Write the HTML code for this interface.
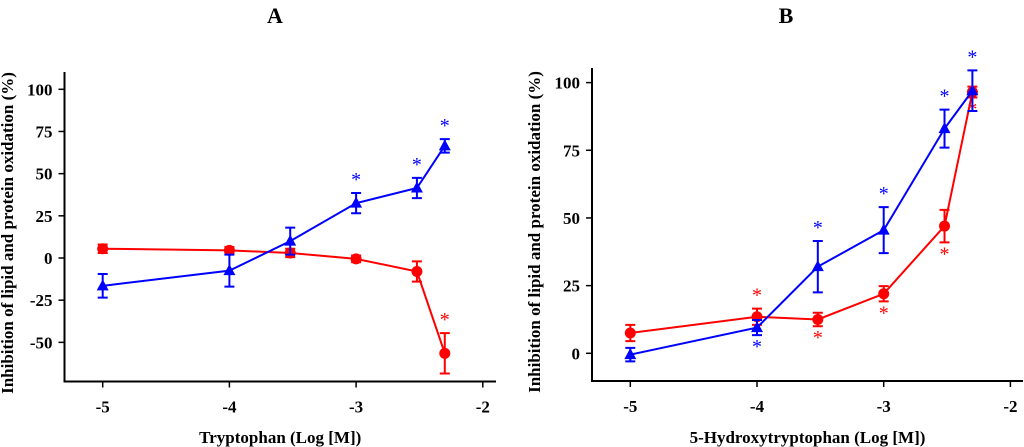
<!DOCTYPE html>
<html><head><meta charset="utf-8"><style>
body{margin:0;background:#fff;}
svg{display:block;font-family:"Liberation Serif",serif;font-weight:bold;}
</style></head><body>
<svg id="chart" width="1024" height="447" viewBox="0 0 1024 447"></svg>
<script>
const xCats=[-5,-4,-3.52,-3,-2.52,-2.3];
const xTicks=[-5,-4,-3,-2];
const aTicks=[100,75,50,25,0,-25,-50];
const bTicks=[100,75,50,25,0];
const aBlue=[-16.5,-7.5,10,32.5,41.5,66.5];
const aBlueErr=[7,9.5,8,6,6,4];
const aRed=[5.5,4.5,3,-0.5,-8,-56.5];
const aRedErr=[2.5,2,2.5,2,6,12];
const aBlueStars=[0,0,0,1,1,1];
const aRedStars=[0,0,0,0,0,1];
const bBlue=[-0.5,9.5,32,45.5,83,97];
const bBlueErr=[2.5,2.8,9.5,8.5,7,7.5];
const bRed=[7.5,13.5,12.5,22,47,96.5];
const bRedErr=[3,3,2.5,2.8,6,2];
const bBlueStars=[0,-1,1,1,1,1];
const bRedStars=[0,1,-1,-1,-1,-1];
const NS='http://www.w3.org/2000/svg';
const svg=document.getElementById('chart');
function el(t,a,p){const e=document.createElementNS(NS,t);for(const k in a)e.setAttribute(k,a[k]);(p||svg).appendChild(e);return e;}
function panel(o){
  const g=el('g',{});
  
  
  const X=v=>o.x0+(v+5)*o.dx, Y=v=>o.y0-v*o.dy;
  const ax=el('path',{d:`M${o.L} ${o.top}V${o.B}H${o.R}`,stroke:'#000','stroke-width':2,fill:'none'},g);
  
  o.yt.forEach(v=>{el('line',{x1:o.L-6,x2:o.L,y1:Y(v),y2:Y(v),stroke:'#000','stroke-width':1.5},g);
    const t=el('text',{x:o.L-12,y:Y(v)+6,'text-anchor':'end','font-size':17},g);t.textContent=v;
    });
  xTicks.forEach(v=>{el('line',{x1:X(v),x2:X(v),y1:o.B,y2:o.B+6,stroke:'#000','stroke-width':1.5},g);
    const t=el('text',{x:X(v),y:o.B+31,'text-anchor':'middle','font-size':17},g);t.textContent=v;
    });
  const xt=el('text',{x:(o.L+o.R)/2,y:443,'text-anchor':'middle','font-size':17},g);xt.textContent=o.xlabel;
  
  const yt=el('text',{x:0,y:0,'text-anchor':'middle','font-size':17,transform:`translate(${o.ylx},${o.ylY}) rotate(-90)`},g);
  yt.textContent='Inhibition of lipid and protein oxidation (%)';
  
  const tt=el('text',{x:o.tx,y:23,'text-anchor':'middle','font-size':22},g);tt.textContent=o.title;
  
  [[o.red,o.redErr,o.redStars,'#f00','circle'],[o.blue,o.blueErr,o.blueStars,'#00f','tri']].forEach(([vals,errs,stars,c,m])=>{
    const s=el('g',{},g);
    
    el('polyline',{points:vals.map((v,i)=>X(xCats[i])+','+Y(v)).join(' '),fill:'none',stroke:c,'stroke-width':2},s);
    vals.forEach((v,i)=>{const x=X(xCats[i]),y=Y(v),e=errs[i]*o.dy;
      el('path',{d:`M${x} ${y-e}V${y+e}M${x-5} ${y-e}H${x+5}M${x-5} ${y+e}H${x+5}`,stroke:c,'stroke-width':2,fill:'none'},s);
      let mk;
      if(m=='circle')mk=el('circle',{cx:x,cy:y,r:5.5,fill:c},s);
      else mk=el('path',{d:`M${x} ${y-6.5}L${x+6} ${y+4.5}L${x-6} ${y+4.5}Z`,fill:c},s);
      
      if(stars[i]){const sy=stars[i]>0?y-e-7:y+e+18;
        const st=el('text',{x:x,y:sy,'text-anchor':'middle','font-size':20,fill:c,'font-weight':'normal'},s);st.textContent='*';
        }
    });
  });
}
panel({name:'panel-a',title:'A',tx:275,L:64.5,R:496,top:72,B:381.5,x0:102.7,dx:126.7,y0:258,dy:1.687,yt:aTicks,
  xlabel:'Tryptophan (Log [M])',ylx:13,ylY:233,blue:aBlue,blueErr:aBlueErr,red:aRed,redErr:aRedErr,blueStars:aBlueStars,redStars:aRedStars});
panel({name:'panel-b',title:'B',tx:786,L:592,R:1023,top:68,B:381,x0:630.3,dx:126.7,y0:353.3,dy:2.707,yt:bTicks,
  xlabel:'5-Hydroxytryptophan (Log [M])',ylx:540,ylY:232,blue:bBlue,blueErr:bBlueErr,red:bRed,redErr:bRedErr,blueStars:bBlueStars,redStars:bRedStars});
</script>
</body></html>
